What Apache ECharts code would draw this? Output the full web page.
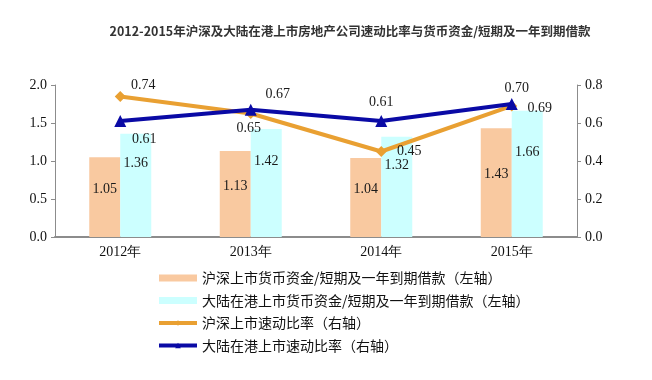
<!DOCTYPE html>
<html><head><meta charset="utf-8">
<script src="https://cdn.jsdelivr.net/npm/echarts@6/dist/echarts.min.js"></script>
<style>html,body{margin:0;padding:0;background:#fff}#c{width:652px;height:380px}</style>
</head><body><div id="c"></div>
<script>
const titleText = '2012-2015年沪深及大陆在港上市房地产公司速动比率与货币资金/短期及一年到期借款';
const categories = ['2012年', '2013年', '2014年', '2015年'];
const seriesNames = ['沪深上市货币资金/短期及一年到期借款（左轴）', '大陆在港上市货币资金/短期及一年到期借款（左轴）', '沪深上市速动比率（右轴）', '大陆在港上市速动比率（右轴）'];
const szCashRatio = [1.05, 1.13, 1.04, 1.43];
const hkCashRatio = [1.36, 1.42, 1.32, 1.66];
const szQuickRatio = [0.74, 0.65, 0.45, 0.69];
const hkQuickRatio = [0.61, 0.67, 0.61, 0.70];
const leftTicks = [0, 2, 0.5];
const rightTicks = [0, 0.8, 0.2];

const szOffsets = [[23,-11],[-2,15],[28,0],[28,2]];
const hkOffsets = [[24,18],[27,-15],[0,-19],[5,-16]];
const serif = '"Liberation Serif","DejaVu Serif",serif';
const cjk = '"Noto Sans CJK SC","Noto Sans",sans-serif';

const chart = echarts.init(document.getElementById('c'));
const lblStyle = {fontFamily: serif, fontSize: 14, color: '#1a1a1a'};
chart.setOption({
  animation: false,
  title: {text: titleText, left: 345, textAlign: 'center', top: 20,
    textStyle: {fontFamily: cjk, fontSize: 12.5, fontWeight: 'bold', color: '#333'}},
  grid: {left: 55, right: 75, top: 85, bottom: 143},
  legend: {orient: 'vertical', left: 152, top: 266, itemGap: 8.5, itemWidth: 38, itemHeight: 7,
    textStyle: {fontFamily: cjk, fontSize: 14, color: '#111'},
    data: [{name: seriesNames[0], icon: 'rect'}, {name: seriesNames[1], icon: 'rect'},
           {name: seriesNames[2], lineStyle: {width: 4}}, {name: seriesNames[3], lineStyle: {width: 4}}]},
  xAxis: {type: 'category', data: categories,
    axisLine: {lineStyle: {color: '#8c8c8c', width: 2}}, axisTick: {show: false},
    axisLabel: {fontFamily: serif, fontSize: 14, color: '#111', margin: 8}},
  yAxis: [
    {type: 'value', min: leftTicks[0], max: leftTicks[1], interval: leftTicks[2], splitLine: {show: false},
     axisLine: {show: true, lineStyle: {color: '#8c8c8c'}}, axisTick: {show: true, length: 4},
     axisLabel: {fontFamily: serif, fontSize: 14, color: '#111', formatter: v => v.toFixed(1), margin: 8}},
    {type: 'value', min: rightTicks[0], max: rightTicks[1], interval: rightTicks[2], splitLine: {show: false},
     axisLine: {show: true, lineStyle: {color: '#8c8c8c'}}, axisTick: {show: true, length: 4},
     axisLabel: {fontFamily: serif, fontSize: 14, color: '#111', formatter: v => v.toFixed(1), margin: 8}}
  ],
  series: [
    {name: seriesNames[0], type: 'bar', data: szCashRatio, barWidth: 31, barGap: '0%',
     itemStyle: {color: '#F9C9A0'},
     label: Object.assign({show: true, position: 'inside', offset: [0, -8]}, lblStyle)},
    {name: seriesNames[1], type: 'bar', data: hkCashRatio, barWidth: 31, barGap: '0%',
     itemStyle: {color: '#CCFFFF'},
     label: Object.assign({show: true, position: 'inside', offset: [0, -22]}, lblStyle)},
    {name: seriesNames[2], type: 'line', yAxisIndex: 1, z: 5,
     data: szQuickRatio.map((v, i) => ({value: v, label: {offset: szOffsets[i]}})),
     symbol: 'diamond', symbolSize: 11, lineStyle: {color: '#E9A032', width: 4}, itemStyle: {color: '#E9A032'},
     label: Object.assign({show: true, position: 'inside', formatter: p => p.value.toFixed(2)}, lblStyle)},
    {name: seriesNames[3], type: 'line', yAxisIndex: 1, z: 6,
     data: hkQuickRatio.map((v, i) => ({value: v, label: {offset: hkOffsets[i]}})),
     symbol: 'triangle', symbolSize: 12, lineStyle: {color: '#0A0AA5', width: 4}, itemStyle: {color: '#0A0AA5'},
     label: Object.assign({show: true, position: 'inside', formatter: p => p.value.toFixed(2)}, lblStyle)}
  ]
});
</script></body></html>
